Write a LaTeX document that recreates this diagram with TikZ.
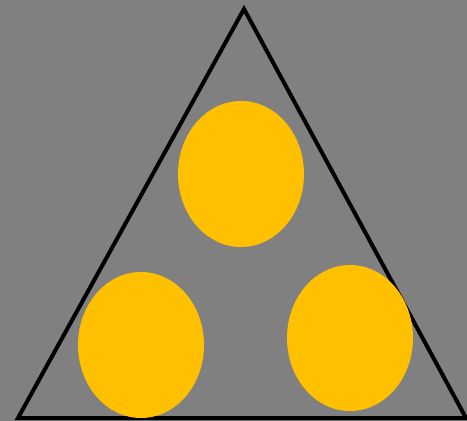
\documentclass[tikz,border=0pt]{standalone}
\usetikzlibrary{shapes.geometric}
\definecolor{bg}{HTML}{808080}
\definecolor{gold}{HTML}{FFC000}
\tikzset{
  blob/.style={ellipse, fill=gold, draw=none, inner sep=0pt, minimum width=126pt, minimum height=146pt},
  edge/.style={line width=4pt, draw=black, line join=miter}
}
\begin{document}
\begin{tikzpicture}[x=1pt,y=-1pt]
\fill[bg] (0,0) rectangle (467,421);
\useasboundingbox (0,0) rectangle (467,421);
\coordinate (apex) at (244,9);
\coordinate (bl) at (18,418);
\coordinate (br) at (466,418);
\draw[edge] (apex) -- (br) -- (bl) -- cycle;
\node[blob] (top) at (241,174) {};
\node[blob] (left) at (141,345) {};
\node[blob] (right) at (350,338) {};
\end{tikzpicture}
\end{document}
